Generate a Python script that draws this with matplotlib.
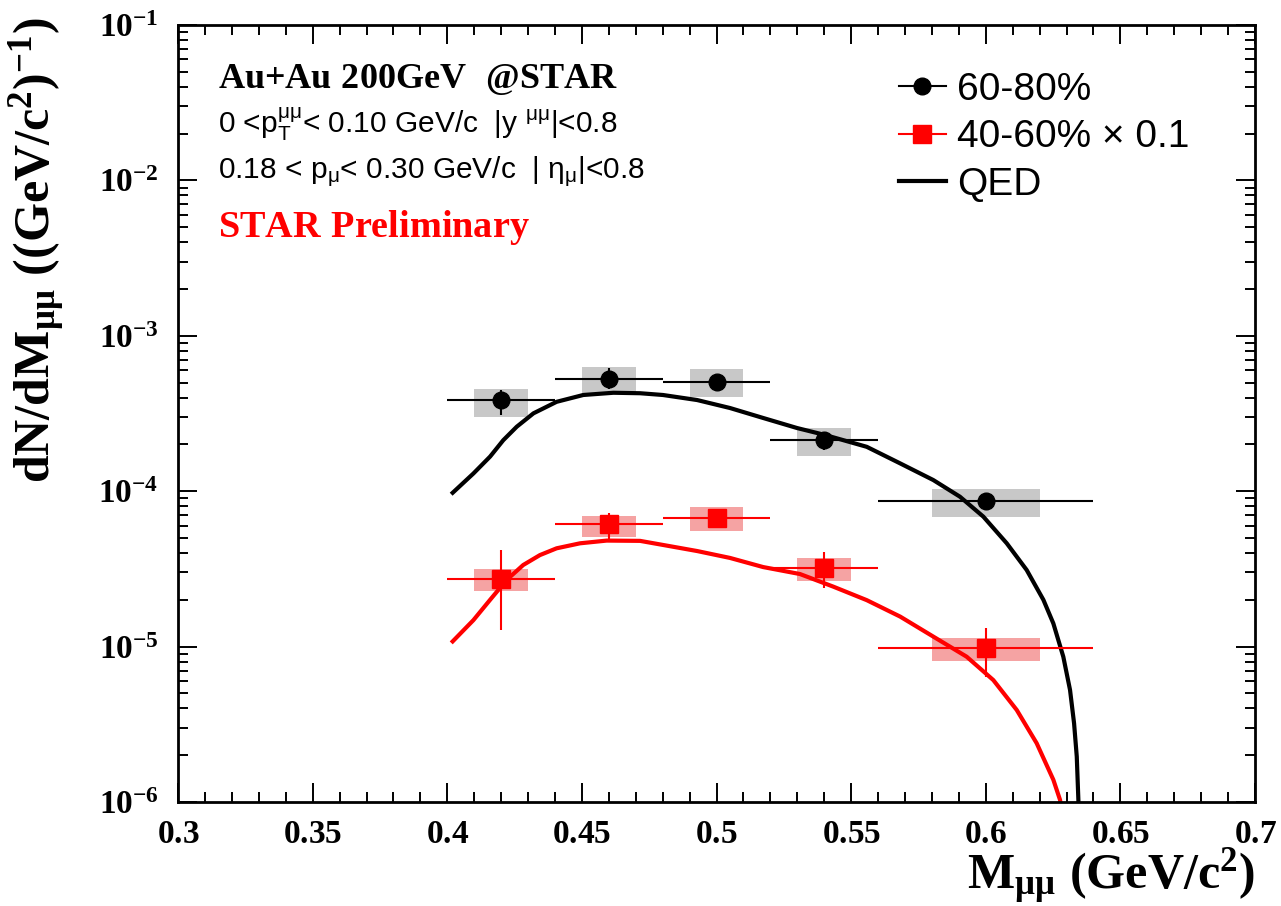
import matplotlib
matplotlib.use("Agg")

import numpy as np
import matplotlib.pyplot as plt
from matplotlib.lines import Line2D
from matplotlib.ticker import MultipleLocator, FuncFormatter, LogLocator

plt.rcParams["mathtext.fontset"] = "custom"
plt.rcParams["mathtext.rm"] = "Liberation Sans"
plt.rcParams["mathtext.it"] = "Liberation Sans:italic"
plt.rcParams["mathtext.bf"] = "Liberation Serif:bold"
plt.rcParams["mathtext.default"] = "rm"
plt.rcParams["font.family"] = "Liberation Sans"

# measured points (bin centres, GeV/c^2)
mass = [0.42, 0.46, 0.50, 0.54, 0.60]
mass_xerr = [0.02, 0.02, 0.02, 0.02, 0.04]
box_halfwidth = [0.01, 0.01, 0.01, 0.01, 0.02]

# 60-80%
peri_y = [3.86e-4, 5.27e-4, 5.05e-4, 2.13e-4, 8.65e-5]
peri_stat_lo = [3.09e-4, 4.55e-4, 4.48e-4, 1.84e-4, 7.6e-5]
peri_stat_hi = [4.48e-4, 6.2e-4, 5.6e-4, 2.4e-4, 9.7e-5]
peri_sys_lo = [3.0e-4, 4.29e-4, 4.03e-4, 1.69e-4, 6.83e-5]
peri_sys_hi = [4.55e-4, 6.29e-4, 6.11e-4, 2.55e-4, 1.03e-4]

# 40-60% x 0.1
semi_y = [2.72e-5, 6.15e-5, 6.73e-5, 3.2e-5, 9.8e-6]
semi_stat_lo = [1.28e-5, 4.71e-5, 5.89e-5, 2.38e-5, 6.37e-6]
semi_stat_hi = [4.19e-5, 7.24e-5, 7.57e-5, 4.06e-5, 1.32e-5]
semi_sys_lo = [2.28e-5, 5.07e-5, 5.54e-5, 2.64e-5, 8.07e-6]
semi_sys_hi = [3.15e-5, 6.92e-5, 7.91e-5, 3.72e-5, 1.14e-5]

# QED curves
qed_peri_x = [0.4020, 0.4097, 0.4159, 0.4208, 0.4258, 0.4320, 0.4406, 0.4505, 0.4617,
              0.4716, 0.4801, 0.4928, 0.5050, 0.5173, 0.5299, 0.5403, 0.5558, 0.5682,
              0.5805, 0.5904, 0.5991, 0.6078, 0.6152, 0.6214, 0.6251, 0.6288, 0.6313,
              0.6328, 0.6338, 0.6344, 0.6347]
qed_peri_y = [9.77e-5, 1.30e-4, 1.67e-4, 2.13e-4, 2.60e-4, 3.17e-4, 3.76e-4, 4.16e-4, 4.30e-4,
              4.27e-4, 4.16e-4, 3.86e-4, 3.43e-4, 2.96e-4, 2.55e-4, 2.30e-4, 1.93e-4, 1.51e-4,
              1.18e-4, 9.22e-5, 6.86e-5, 4.62e-5, 3.11e-5, 2.0e-5, 1.41e-5, 8.61e-6, 5.26e-6,
              3.21e-6, 1.96e-6, 1.03e-6, 6e-7]
qed_semi_x = [0.4020, 0.4097, 0.4159, 0.4221, 0.4282, 0.4344, 0.4406, 0.4493, 0.4592,
              0.4716, 0.4801, 0.4928, 0.5050, 0.5173, 0.5310, 0.5434, 0.5558, 0.5682,
              0.5805, 0.5929, 0.6028, 0.6115, 0.6189, 0.6251, 0.6276, 0.6285]
qed_semi_y = [1.08e-5, 1.48e-5, 2.0e-5, 2.69e-5, 3.35e-5, 3.88e-5, 4.29e-5, 4.62e-5, 4.81e-5,
              4.79e-5, 4.51e-5, 4.12e-5, 3.72e-5, 3.25e-5, 2.93e-5, 2.43e-5, 1.99e-5, 1.56e-5,
              1.16e-5, 8.61e-6, 6.09e-6, 3.91e-6, 2.39e-6, 1.39e-6, 1.03e-6, 8e-7]

fig = plt.figure(figsize=(12.81, 9.06), dpi=100)
ax = fig.add_axes([0.139, 0.1148, 0.8407, 0.8576])
ax.set_yscale("log")
ax.set_xlim(0.3, 0.7)
ax.set_ylim(1e-6, 1e-1)


def draw_set(y, slo, shi, ylo, yhi, color, boxcolor, marker, ms):
    m = np.array(mass)
    y = np.array(y)
    ax.bar(m, np.array(shi) - np.array(slo), bottom=slo, width=2 * np.array(box_halfwidth),
           color=boxcolor, edgecolor="none", zorder=1)
    ax.errorbar(m, y, xerr=mass_xerr, yerr=[y - np.array(ylo), np.array(yhi) - y],
                fmt=marker, color=color, ms=ms, elinewidth=1.5, capsize=0, zorder=3)


draw_set(peri_y, peri_sys_lo, peri_sys_hi, peri_stat_lo, peri_stat_hi,
         "black", "#c8c8c8", "o", 12)
draw_set(semi_y, semi_sys_lo, semi_sys_hi, semi_stat_lo, semi_stat_hi,
         "#ff0000", "#f5a3a3", "s", 13)

ax.plot(qed_peri_x, qed_peri_y, color="black", lw=3, zorder=2, solid_joinstyle="round")
ax.plot(qed_semi_x, qed_semi_y, color="#ff0000", lw=3, zorder=2, solid_joinstyle="round")

# ticks, ROOT-like
ax.xaxis.set_major_locator(MultipleLocator(0.05))
ax.xaxis.set_minor_locator(MultipleLocator(0.01))
ax.xaxis.set_major_formatter(FuncFormatter(lambda v, p: r"$\mathbf{%g}$" % round(v, 2)))
ax.yaxis.set_major_locator(LogLocator(base=10, numticks=10))
ax.yaxis.set_minor_locator(LogLocator(base=10, subs=np.arange(2, 10), numticks=20))
ax.yaxis.set_major_formatter(FuncFormatter(lambda v, p: r"$\mathbf{10^{%d}}$" % int(round(np.log10(v)))))
ax.tick_params(which="both", direction="in", top=True, right=True, width=1.4, labelsize=24)
ax.tick_params(which="major", length=14)
ax.tick_params(which="minor", length=7)
ax.tick_params(axis="x", pad=12)
ax.tick_params(axis="y", pad=14)
for s in ax.spines.values():
    s.set_linewidth(2)

ax.set_xlabel(r"$\mathbf{M_{μμ}\ (GeV/c^{2})}$", fontsize=36, loc="right")
ax.set_ylabel(r"$\mathbf{dN/dM_{μμ}\ ((GeV/c^{2})^{-1})}$", fontsize=36, loc="top")
ax.xaxis.set_label_coords(1.0, -0.058)
ax.yaxis.set_label_coords(-0.1025, 1.01)

ax.text(0.037, 0.919, r"$\mathbf{Au{+}Au\ 200GeV\ \ @STAR}$", transform=ax.transAxes,
        fontsize=26, va="baseline")
ax.text(0.037, 0.861, r"0 <p$_{T}^{μμ}$< 0.10 GeV/c  |y $^{μμ}$|<0.8", transform=ax.transAxes,
        fontsize=21.5, va="baseline")
ax.text(0.037, 0.803, r"0.18 < p$_{μ}$< 0.30 GeV/c  | η$_{μ}$|<0.8", transform=ax.transAxes,
        fontsize=21.5, va="baseline")
ax.text(0.037, 0.727, r"$\mathbf{STAR\ Preliminary}$", transform=ax.transAxes,
        fontsize=27.5, va="baseline", color="#ff0000")

handles = [
    Line2D([], [], color="black", marker="o", ms=12, lw=1.5),
    Line2D([], [], color="#ff0000", marker="s", ms=13, lw=1.5),
    Line2D([], [], color="black", lw=3),
]
labels = ["60-80%", "40-60% × 0.1", "QED"]
ax.legend(handles, labels, loc="upper left", bbox_to_anchor=(0.655, 0.96), frameon=False,
          fontsize=28, handlelength=1.2, handletextpad=0.3, labelspacing=0.3,
          borderaxespad=0)

fig.savefig("out.png", dpi=100)
